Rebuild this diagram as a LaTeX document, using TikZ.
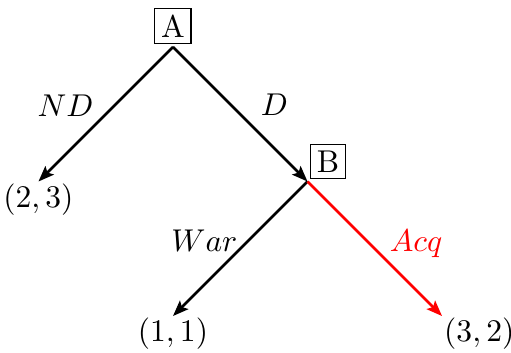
\documentclass[tikz,border=0pt]{standalone}
\usepackage{amsmath}
\usepackage{xcolor}
\usepackage{tikz}
\usetikzlibrary{arrows.meta, positioning}

\begin{document}
\begin{tikzpicture}[
    player/.style={rectangle, draw=black, thin, inner sep=2pt, outer sep=1pt},
    payoff/.style={inner sep=0.5pt},
    arr/.style={-{Stealth[length=5pt, width=3.8pt, inset=1pt]}, thick, black},
    acqarr/.style={arr, red},
    lbl/.style={inner sep=0pt}
]
\useasboundingbox (-1.929,-3.412) rectangle (3.769,0.524);

\node[player, anchor=south] (A) at (0, 0) {A};
\node[player, anchor=south west] (B) at (1.5, -1.5) {B};
\node[payoff, anchor=north] (nd) at (-1.5, -1.5) {$(2,3)$};
\node[payoff, anchor=north] (war) at (0, -3) {$(1,1)$};
\node[payoff, anchor=north west] (acq) at (3, -3) {$(3,2)$};

\draw[arr] (A.south) -- (nd.north) node[midway, lbl, xshift=-0.45cm, yshift=0.1cm]{$ND$};
\draw[arr] (A.south) -- (B.south west) node[midway, lbl, xshift=0.38cm, yshift=0.11cm]{$D$};
\draw[arr] (B.south west) -- (war.north) node[midway, lbl, xshift=-0.4cm, yshift=0.09cm]{$War$};
\draw[acqarr] (B.south west) -- (acq.north west) node[midway, lbl, xshift=0.46cm, yshift=0.05cm]{$Acq$};
\end{tikzpicture}
\end{document}
